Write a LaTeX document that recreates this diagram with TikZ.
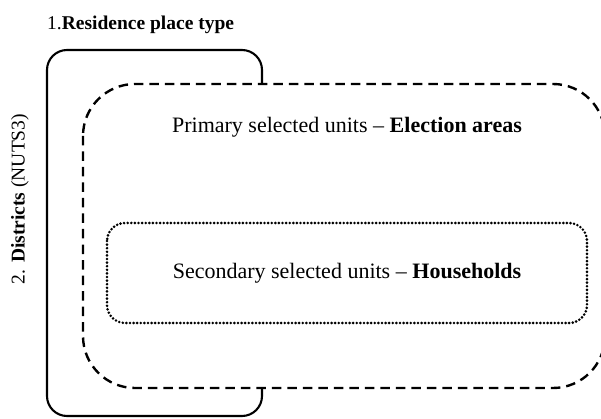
\documentclass[tikz,border=0pt]{standalone}
\usepackage{fontspec}
\setmainfont{Liberation Serif}
\begin{document}
\begin{tikzpicture}[x=1pt,y=-1pt,
  solidline/.style={line width=2.1pt, rounded corners=20pt},
  dashline/.style={line width=2.4pt, dash pattern=on 9.5pt off 6pt, rounded corners=52pt},
  dotline/.style={line width=2.9pt, dash pattern=on 0pt off 3.6pt, line cap=round, rounded corners=18pt},
  lbl/.style={inner sep=0pt, font=\fontsize{22}{26}\selectfont}]
\useasboundingbox (0,0) rectangle (601,419);
% solid region (residence place type)
\draw[solidline] (262,84) -- (262,50) -- (47,50) -- (47,416) -- (262,416) -- (262,387);
% dashed region (primary units)
\draw[dashline] (83,84) rectangle (605,388);
% dotted region (secondary units)
\draw[dotline] (107,223) rectangle (587,323);
% texts
\node[inner sep=0pt, font=\fontsize{19.5}{23}\selectfont, anchor=west] (title) at (47,25) {1.\textbf{Residence place type}};
\node[inner sep=0pt, font=\fontsize{19.5}{23}\selectfont, rotate=90] (districts) at (20,199) {2. \textbf{Districts} (NUTS3)};
\node[lbl] (primary) at (347,127) {Primary selected units -- \textbf{Election areas}};
\node[lbl] (secondary) at (347,273) {Secondary selected units -- \textbf{Households}};
\end{tikzpicture}
\end{document}
